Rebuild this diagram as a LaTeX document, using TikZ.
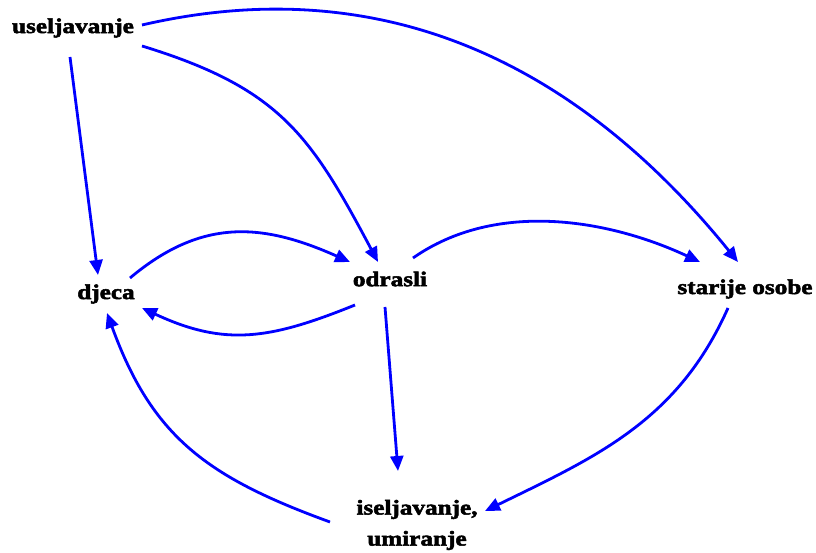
\documentclass[tikz,border=0pt]{standalone}
\usepackage{fontspec}
\setmainfont{Liberation Serif}[FakeStretch=1.2]
\usepackage{xcolor}
\usetikzlibrary{arrows.meta,calc}
\definecolor{flowblue}{RGB}{0,0,255}

\begin{document}
\begin{tikzpicture}[
    x=1pt, y=1pt,
    group/.style={font=\fontsize{21}{31}\selectfont\bfseries\addfontfeature{FakeBold=2.5}, inner sep=0pt, align=center},
    arrow/.style={-{Triangle[length=15pt,width=13pt]}, draw=flowblue, line width=2.8pt}
]
\useasboundingbox (0,0) rectangle (816,553);

% Nodes
\node[group] (useljavanje) at (73,525) {useljavanje};
\node[group] (djeca) at (106,259) {djeca};
\node[group] (odrasli) at (390,274) {odrasli};
\node[group] (starije) at (745,264) {starije osobe};
\node[group] (iseljavanje) at (417,28) {iseljavanje,\\umiranje};

% Arrows
\draw[arrow] ($(useljavanje)+(-3,-29)$) -- ($(djeca)+(-8,19)$);
\draw[arrow] ($(useljavanje)+(69,-18)$) to[out=-17, in=118, looseness=1.15] ($(odrasli)+(-12,17)$);
\draw[arrow] ($(useljavanje)+(69,3)$) to[out=13, in=129] ($(starije)+(-7,27)$);
\draw[arrow] ($(djeca)+(24,16)$) to[out=40, in=156, looseness=1.1] ($(odrasli)+(-40,17)$);
\draw[arrow] ($(odrasli)+(-35,-26)$) to[out=202, in=-25, looseness=1.1] ($(djeca)+(36,-14)$);
\draw[arrow] ($(odrasli)+(23,21)$) to[out=35, in=155, looseness=0.9] ($(starije)+(-45,27)$);
\draw[arrow] ($(odrasli)+(-5,-28)$) -- ($(iseljavanje)+(-19,54)$);
\draw[arrow] ($(starije)+(-17,-19)$) to[out=246, in=26] ($(iseljavanje)+(68,14)$);
\draw[arrow] ($(iseljavanje)+(-87,3)$) to[out=160, in=-70, looseness=1.1] ($(djeca)+(1,-19)$);

\end{tikzpicture}
\end{document}
